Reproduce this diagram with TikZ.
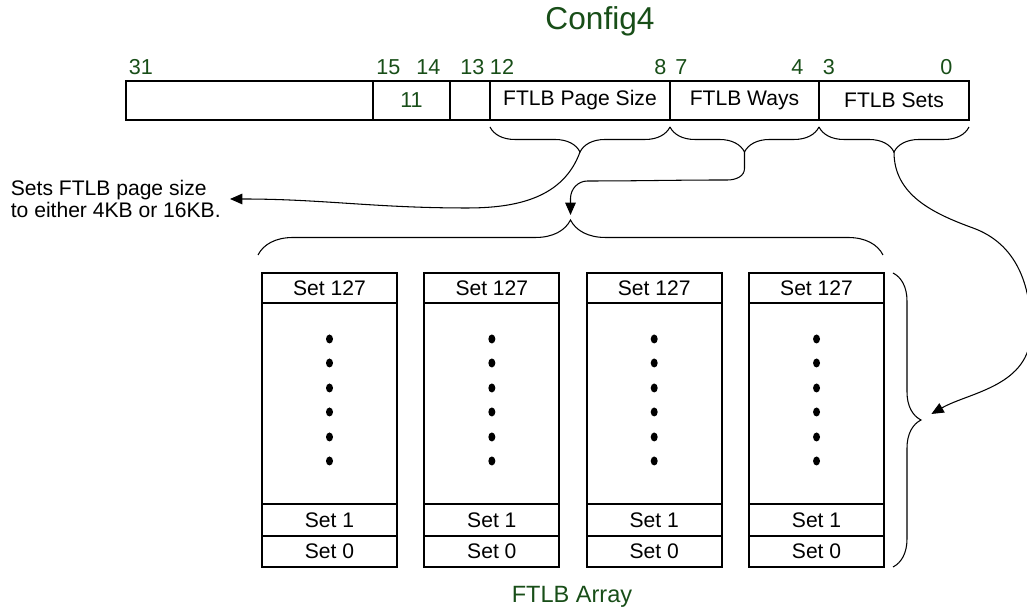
\documentclass[tikz,border=0pt]{standalone}
\usepackage{fontspec}
\setmainfont{Liberation Sans}
\definecolor{cfggreen}{RGB}{24,78,24}
\usetikzlibrary{arrows.meta,positioning,decorations.pathreplacing}

\begin{document}
\begin{tikzpicture}[
  fieldbox/.style={draw, line width=1.1pt, minimum height=0.78cm, inner sep=0pt, outer sep=0pt,
    font=\fontsize{12}{14}\selectfont},
  bitnum/.style={text=cfggreen, anchor=base, inner sep=0pt, font=\fontsize{12.3}{14}\selectfont},
  setbox/.style={draw, line width=1.1pt, minimum width=2.7cm, inner sep=0pt, outer sep=0pt,
    font=\fontsize{12}{14}\selectfont},
  bracepath/.style={decorate, line width=0.6pt},
  linkarrow/.style={-{Triangle[length=7pt,width=6pt]}, line width=0.6pt}]

\useasboundingbox (0,0) rectangle (20.54,12.22);

% Register
\node[text=cfggreen, anchor=base, font=\fontsize{18}{21}\selectfont] (title) at (12.0,11.62) {Config4};

\node[fieldbox, minimum width=4.94cm] (f31) at (4.99,10.21) {};
\node[fieldbox, minimum width=1.54cm, text=cfggreen, font=\fontsize{12.3}{14}\selectfont] (f15) at (8.23,10.21) {11};
\node[fieldbox, minimum width=0.80cm] (f13) at (9.40,10.21) {};
\node[fieldbox, minimum width=3.60cm] (fpage) at (11.60,10.21) {FTLB Page Size};
\node[fieldbox, minimum width=2.98cm] (fways) at (14.89,10.21) {FTLB Ways};
\node[fieldbox, minimum width=3.00cm] (fsets) at (17.88,10.21) {FTLB Sets};

\foreach \x/\b in {2.82/31, 7.77/15, 8.57/14, 9.45/13, 10.04/12, 13.21/8, 13.63/7, 15.95/4, 16.58/3, 18.93/0}
  \node[bitnum] (n\b) at (\x,10.72) {\b};

% Braces under the fields
\draw[bracepath, decoration={brace, amplitude=0.5cm}] (13.40,9.68) -- (9.80,9.68);
\draw[bracepath, decoration={brace, amplitude=0.5cm}] (16.38,9.68) -- (13.40,9.68);
\draw[bracepath, decoration={brace, amplitude=0.5cm}] (19.38,9.68) -- (16.38,9.68);
\coordinate (b1) at (11.60,9.18);
\coordinate (b2) at (14.89,9.18);
\coordinate (b3) at (17.88,9.18);

% Note on the left
\node[anchor=west, align=left, inner sep=0.18cm, font=\fontsize{12}{13}\selectfont]
  (note) at (0.03,8.24) {Sets FTLB page size\\to either 4KB or 16KB.};

% FTLB array
\foreach \i in {0,...,3} {
  \pgfmathsetmacro{\cx}{6.59+3.247*\i}
  \node[setbox, minimum height=0.60cm] (top\i) at (\cx,6.46) {Set 127};
  \node[setbox, minimum height=4.02cm] (mid\i) at (\cx,4.15) {};
  \node[setbox, minimum height=0.64cm] (one\i) at (\cx,1.82) {Set 1};
  \node[setbox, minimum height=0.62cm] (zero\i) at (\cx,1.19) {Set 0};
  \foreach \y in {5.44,4.96,4.46,3.98,3.48,3.00}
    \fill (\cx,\y) ellipse (0.07 and 0.09);
}

\node[text=cfggreen, anchor=base, font=\fontsize{13.4}{16}\selectfont] (arrlabel) at (11.44,0.16) {FTLB Array};

% Braces round the array
\draw[bracepath, decoration={brace, amplitude=0.7cm}] (5.16,7.12) -- (17.66,7.12);
\coordinate (bb) at (11.41,7.82);
\draw[bracepath, decoration={brace, amplitude=0.56cm}] (17.86,6.76) -- (17.86,0.88);
\coordinate (rb) at (18.42,3.82);

% Links
\draw[linkarrow] (b1) to[out=-110,in=0] (9.34,8.06) to[out=180,in=0] (note.east);
\draw[linkarrow, shorten >=0.1cm] (b2) -- (14.89,8.85) to[out=-90,in=0] (14.55,8.62)
  to[out=180,in=0] (11.75,8.60) to[out=180,in=90] (11.41,8.25) -- (bb);
\draw[linkarrow, shorten >=0.24cm] (b3) to[out=-90,in=160] (19.46,7.66) to[out=-20,in=90] (20.62,5.6)
  to[out=-90,in=30] (rb);

\end{tikzpicture}
\end{document}
